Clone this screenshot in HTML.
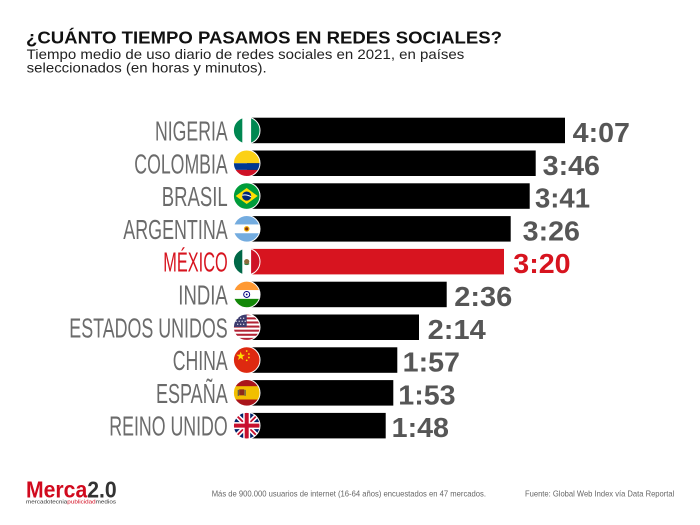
<!DOCTYPE html>
<html>
<head>
<meta charset="utf-8">
<style>
html,body{margin:0;padding:0;background:#fff;}
svg{display:block;}
</style>
</head>
<body>
<svg width="700" height="525" viewBox="0 0 700 525" xmlns="http://www.w3.org/2000/svg">
<defs>
<clipPath id="c"><circle cx="0" cy="0" r="13.3"/></clipPath>
</defs>
<rect width="700" height="525" fill="#fff"/>

<!-- Title -->
<text x="26" y="43.3" font-family="Liberation Sans, sans-serif" font-weight="bold" font-size="17.5" fill="#111" textLength="476" lengthAdjust="spacingAndGlyphs">¿CUÁNTO TIEMPO PASAMOS EN REDES SOCIALES?</text>
<text x="26.7" y="59" font-family="Liberation Sans, sans-serif" font-size="14" fill="#222" textLength="437.6" lengthAdjust="spacingAndGlyphs">Tiempo medio de uso diario de redes sociales en 2021, en países</text>
<text x="26.7" y="72.3" font-family="Liberation Sans, sans-serif" font-size="14" fill="#222" textLength="240" lengthAdjust="spacingAndGlyphs">seleccionados (en horas y minutos).</text>

<!-- Bars -->
<g>
<rect x="247" y="117.7" width="318" height="25.5" fill="#000"/>
<rect x="247" y="150.5" width="288.7" height="25.5" fill="#000"/>
<rect x="247" y="183.3" width="282.7" height="25.5" fill="#000"/>
<rect x="247" y="216.1" width="263.7" height="25.5" fill="#000"/>
<rect x="247" y="248.9" width="257" height="25.5" fill="#d7141f"/>
<rect x="247" y="281.7" width="199.7" height="25.5" fill="#000"/>
<rect x="247" y="314.5" width="172" height="25.5" fill="#000"/>
<rect x="247" y="347.3" width="150.3" height="25.5" fill="#000"/>
<rect x="247" y="380.1" width="146.3" height="25.5" fill="#000"/>
<rect x="247" y="412.9" width="138.7" height="25.5" fill="#000"/>
</g>

<!-- Country labels -->
<g font-family="Liberation Sans Narrow, Liberation Sans, sans-serif" font-size="28" fill="#6b6b6b" lengthAdjust="spacingAndGlyphs">
<text x="155" y="140.5" textLength="72.7" lengthAdjust="spacingAndGlyphs">NIGERIA</text>
<text x="134.3" y="173.3" textLength="93.4" lengthAdjust="spacingAndGlyphs">COLOMBIA</text>
<text x="161.7" y="206.1" textLength="66" lengthAdjust="spacingAndGlyphs">BRASIL</text>
<text x="123.3" y="238.9" textLength="104.4" lengthAdjust="spacingAndGlyphs">ARGENTINA</text>
<text x="163.3" y="271.7" textLength="64.4" lengthAdjust="spacingAndGlyphs" fill="#d7141f">MÉXICO</text>
<text x="178.3" y="304.5" textLength="49.4" lengthAdjust="spacingAndGlyphs">INDIA</text>
<text x="69.3" y="337.3" textLength="158.4" lengthAdjust="spacingAndGlyphs">ESTADOS UNIDOS</text>
<text x="172.7" y="370.1" textLength="55" lengthAdjust="spacingAndGlyphs">CHINA</text>
<text x="156" y="402.9" textLength="71.7" lengthAdjust="spacingAndGlyphs">ESPAÑA</text>
<text x="109.3" y="435.7" textLength="118.4" lengthAdjust="spacingAndGlyphs">REINO UNIDO</text>
</g>

<!-- Value labels -->
<g font-family="Liberation Sans, sans-serif" font-weight="bold" font-size="28" fill="#565656">
<text x="572.7" y="142" textLength="57.3" lengthAdjust="spacingAndGlyphs">4:07</text>
<text x="542.7" y="174.8" textLength="57.3" lengthAdjust="spacingAndGlyphs">3:46</text>
<text x="535" y="207.6" textLength="55" lengthAdjust="spacingAndGlyphs">3:41</text>
<text x="522.7" y="240.4" textLength="57.3" lengthAdjust="spacingAndGlyphs">3:26</text>
<text x="513.3" y="273.2" textLength="57.3" lengthAdjust="spacingAndGlyphs" fill="#d7141f">3:20</text>
<text x="454.3" y="306" textLength="58" lengthAdjust="spacingAndGlyphs">2:36</text>
<text x="427.7" y="338.8" textLength="58" lengthAdjust="spacingAndGlyphs">2:14</text>
<text x="402.7" y="371.6" textLength="57.3" lengthAdjust="spacingAndGlyphs">1:57</text>
<text x="398.3" y="404.4" textLength="57.3" lengthAdjust="spacingAndGlyphs">1:53</text>
<text x="391.7" y="437.2" textLength="57.3" lengthAdjust="spacingAndGlyphs">1:48</text>
</g>

<!-- Flags -->
<!-- Nigeria -->
<g transform="translate(246.7,130.45)">
<g clip-path="url(#c)">
<rect x="-14" y="-14" width="28" height="28" fill="#fff"/>
<rect x="-14" y="-14" width="9.6" height="28" fill="#008751"/>
<rect x="4.4" y="-14" width="9.6" height="28" fill="#008751"/>
</g>
<circle r="13.3" fill="none" stroke="#fff" stroke-width="1"/>
</g>
<!-- Colombia -->
<g transform="translate(246.7,163.25)">
<g clip-path="url(#c)">
<rect x="-14" y="-14" width="28" height="14" fill="#fcd116"/>
<rect x="-14" y="0" width="28" height="6.65" fill="#003893"/>
<rect x="-14" y="6.65" width="28" height="8" fill="#ce1126"/>
</g>
<circle r="13.3" fill="none" stroke="#fff" stroke-width="1"/>
</g>
<!-- Brasil -->
<g transform="translate(246.7,196.05)">
<g clip-path="url(#c)">
<rect x="-14" y="-14" width="28" height="28" fill="#009c3b"/>
<polygon points="-11,0 0,-8 11,0 0,8" fill="#ffdf00"/>
<circle r="4.6" fill="#002776"/>
<path d="M-4.5,-0.8 Q0,-2 4.5,0.8" stroke="#fff" stroke-width="1" fill="none"/>
</g>
<circle r="13.3" fill="none" stroke="#fff" stroke-width="1"/>
</g>
<!-- Argentina -->
<g transform="translate(246.7,228.85)">
<g clip-path="url(#c)">
<rect x="-14" y="-14" width="28" height="28" fill="#fff"/>
<rect x="-14" y="-14" width="28" height="9.6" fill="#74acdf"/>
<rect x="-14" y="4.4" width="28" height="9.6" fill="#74acdf"/>
<circle r="2.8" fill="#f6b40e"/>
<circle r="1.6" fill="#85340a"/>
</g>
<circle r="13.3" fill="none" stroke="#fff" stroke-width="1"/>
</g>
<!-- Mexico -->
<g transform="translate(246.7,261.65)">
<g clip-path="url(#c)">
<rect x="-14" y="-14" width="28" height="28" fill="#fff"/>
<rect x="-14" y="-14" width="9.6" height="28" fill="#006847"/>
<rect x="4.4" y="-14" width="9.6" height="28" fill="#ce1126"/>
<circle r="2.6" fill="#8c6a3b"/>
<path d="M-2.5,2 Q0,4 2.5,2" stroke="#2d7a3a" stroke-width="0.9" fill="none"/>
</g>
<circle r="13.3" fill="none" stroke="#fff" stroke-width="1"/>
</g>
<!-- India -->
<g transform="translate(246.7,294.45)">
<g clip-path="url(#c)">
<rect x="-14" y="-14" width="28" height="28" fill="#fff"/>
<rect x="-14" y="-14" width="28" height="9.6" fill="#ff9933"/>
<rect x="-14" y="4.4" width="28" height="9.6" fill="#138808"/>
<circle r="3" fill="none" stroke="#000080" stroke-width="1"/>
<circle r="0.9" fill="#000080"/>
</g>
<circle r="13.3" fill="none" stroke="#fff" stroke-width="1"/>
</g>
<!-- USA -->
<g transform="translate(246.7,327.25)">
<g clip-path="url(#c)">
<rect x="-14" y="-14" width="28" height="28" fill="#fff"/>
<rect x="-14" y="-14" width="28" height="2.05" fill="#b22234"/>
<rect x="-14" y="-9.9" width="28" height="2.05" fill="#b22234"/>
<rect x="-14" y="-5.8" width="28" height="2.05" fill="#b22234"/>
<rect x="-14" y="-1.7" width="28" height="2.05" fill="#b22234"/>
<rect x="-14" y="2.4" width="28" height="2.05" fill="#b22234"/>
<rect x="-14" y="6.5" width="28" height="2.05" fill="#b22234"/>
<rect x="-14" y="10.6" width="28" height="2.05" fill="#b22234"/>
<rect x="-14" y="-14" width="14" height="13.7" fill="#3c3b6e"/>
<g fill="#fff">
<circle cx="-9" cy="-9" r="0.6"/><circle cx="-6" cy="-9" r="0.6"/><circle cx="-3" cy="-9" r="0.6"/>
<circle cx="-10.5" cy="-6" r="0.6"/><circle cx="-7.5" cy="-6" r="0.6"/><circle cx="-4.5" cy="-6" r="0.6"/><circle cx="-1.5" cy="-6" r="0.6"/>
<circle cx="-9" cy="-3" r="0.6"/><circle cx="-6" cy="-3" r="0.6"/><circle cx="-3" cy="-3" r="0.6"/>
</g>
</g>
<circle r="13.3" fill="none" stroke="#fff" stroke-width="1"/>
</g>
<!-- China -->
<g transform="translate(246.7,360.05)">
<g clip-path="url(#c)">
<rect x="-14" y="-14" width="28" height="28" fill="#de2910"/>
<polygon points="-6,-8.5 -4.9,-5.3 -1.6,-5.3 -4.3,-3.3 -3.3,-0.1 -6,-2.1 -8.7,-0.1 -7.7,-3.3 -10.4,-5.3 -7.1,-5.3" fill="#ffde00"/>
<circle cx="0" cy="-9" r="0.9" fill="#ffde00"/>
<circle cx="2.2" cy="-6" r="0.9" fill="#ffde00"/>
<circle cx="2.2" cy="-2.5" r="0.9" fill="#ffde00"/>
<circle cx="0" cy="0.3" r="0.9" fill="#ffde00"/>
</g>
<circle r="13.3" fill="none" stroke="#fff" stroke-width="1"/>
</g>
<!-- Spain -->
<g transform="translate(246.7,392.85)">
<g clip-path="url(#c)">
<rect x="-14" y="-14" width="28" height="28" fill="#aa151b"/>
<rect x="-14" y="-6.65" width="28" height="13.3" fill="#f1bf00"/>
<rect x="-7.5" y="-3.5" width="5" height="6" fill="#8c2a1c"/>
<rect x="-9" y="-3" width="1.2" height="6" fill="#555"/>
<rect x="-2.2" y="-3" width="1.2" height="6" fill="#555"/>
</g>
<circle r="13.3" fill="none" stroke="#fff" stroke-width="1"/>
</g>
<!-- UK -->
<g transform="translate(246.7,425.65)">
<g clip-path="url(#c)">
<rect x="-14" y="-14" width="28" height="28" fill="#012169"/>
<path d="M-14,-14 L14,14 M14,-14 L-14,14" stroke="#fff" stroke-width="5"/>
<path d="M-14,-14 L14,14 M14,-14 L-14,14" stroke="#c8102e" stroke-width="1.8"/>
<path d="M0,-14 V14 M-14,0 H14" stroke="#fff" stroke-width="7"/>
<path d="M0,-14 V14 M-14,0 H14" stroke="#c8102e" stroke-width="4"/>
</g>
<circle r="13.3" fill="none" stroke="#fff" stroke-width="1"/>
</g>

<!-- Footer -->
<text x="26" y="497.7" font-family="Liberation Sans, sans-serif" font-weight="bold" font-size="23" textLength="90.7" lengthAdjust="spacingAndGlyphs"><tspan fill="#d10a1e">Merca</tspan><tspan fill="#333">2.0</tspan></text>
<text x="26" y="503.3" font-family="Liberation Sans, sans-serif" font-size="5.5" textLength="90" lengthAdjust="spacingAndGlyphs"><tspan fill="#333">mercadotecnia</tspan><tspan fill="#d10a1e">publicidad</tspan><tspan fill="#333">medios</tspan></text>
<text x="211.7" y="496.3" font-family="Liberation Sans Narrow, Liberation Sans, sans-serif" font-size="8.4" fill="#666" textLength="274.3" lengthAdjust="spacingAndGlyphs">Más de 900.000 usuarios de internet (16-64 años) encuestados en 47 mercados.</text>
<text x="525" y="496.3" font-family="Liberation Sans Narrow, Liberation Sans, sans-serif" font-size="8.4" fill="#666" textLength="149.3" lengthAdjust="spacingAndGlyphs">Fuente: Global Web Index vía Data Reportal</text>
</svg>
</body>
</html>
